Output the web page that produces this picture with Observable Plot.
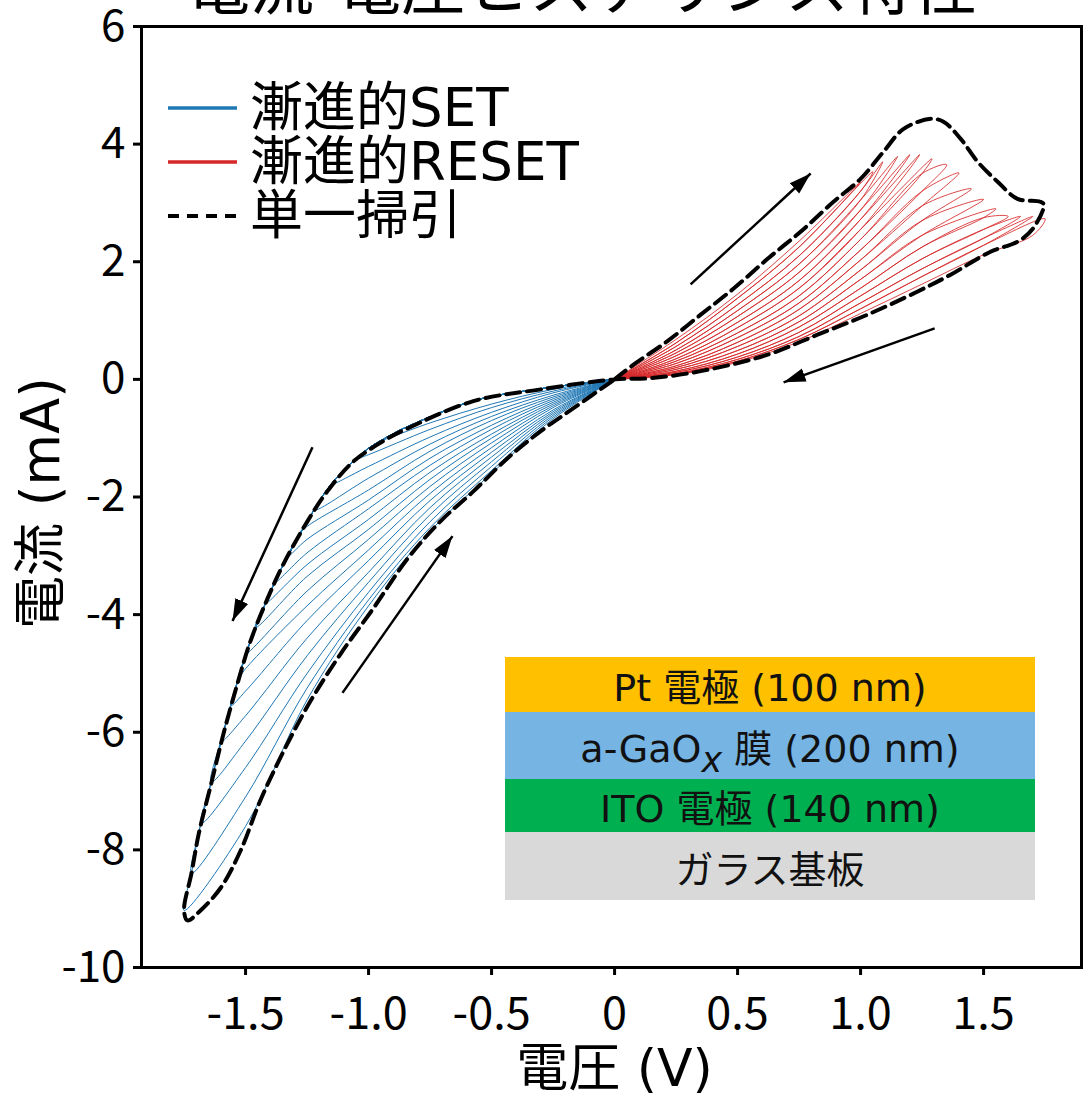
<!DOCTYPE html>
<html><head><meta charset="utf-8">
<script src="https://cdn.jsdelivr.net/npm/d3@7"></script>
<script src="https://cdn.jsdelivr.net/npm/@observablehq/plot@0.6"></script>
<style>
body{margin:0;background:#fff;}
#wrap{position:relative;width:1086px;height:1096px;overflow:hidden;font-family:"DejaVu Sans","Noto Sans CJK JP",sans-serif;color:#000;}
#legend{position:absolute;left:166px;top:81px;}
.row{display:flex;align-items:center;height:54px;font-size:53px;line-height:54px;white-space:nowrap;}
.row svg{margin-right:12px;flex:none;}
.row span{display:inline-block;height:54px;line-height:54px;overflow:visible;}
#stack{position:absolute;left:505px;top:657px;width:530px;}
#stack > div{display:flex;align-items:center;justify-content:center;font-size:38px;color:#111;white-space:nowrap;}
#stack sub{font-size:0.92em;vertical-align:-0.3em;line-height:0;}
</style></head><body><div id="wrap"></div>
<script>
// ---------- text ----------
const titleText = "電流-電圧ヒステリシス特性";
const xLabel = "電圧 (V)";
const yLabel = "電流 (mA)";
const legendLabels = ["漸進的SET", "漸進的RESET", "単一掃引"];
const legendColors = ["#1f77b4", "#d62728", "#000000"];
const stackLabels = ["Pt 電極 (100 nm)", "a-GaO<sub><i>x</i></sub> 膜 (200 nm)", "ITO 電極 (140 nm)", "ガラス基板"];
const stackColors = ["#FFC000", "#75B4E3", "#00B050", "#D9D9D9"];

// ---------- ticks ----------
const xTicks = [-1.5, -1.0, -0.5, 0, 0.5, 1.0, 1.5];
const xTickLabels = ["-1.5", "-1.0", "-0.5", "0", "0.5", "1.0", "1.5"];
const yTicks = [6, 4, 2, 0, -2, -4, -6, -8, -10];
const yTickLabels = ["6", "4", "2", "0", "-2", "-4", "-6", "-8", "-10"];

// ---------- single sweep (dashed) ----------
const sweepV = [0, 0.077, 0.215, 0.35, 0.484, 0.622, 0.756, 0.89, 1.0, 1.093,
  1.175, 1.285, 1.337, 1.407, 1.476, 1.557, 1.638, 1.73, 1.745, 1.70,
  1.638, 1.528, 1.366, 1.23, 1.028, 0.825, 0.622, 0.35, 0.146, 0,
  -0.30, -0.574, -0.84, -0.92, -1.06, -1.167, -1.248, -1.346, -1.41, -1.48,
  -1.53, -1.59, -1.64, -1.69, -1.72, -1.75, -1.736, -1.683, -1.60, -1.52,
  -1.44, -1.345, -1.236, -1.114, -0.98, -0.84, -0.707, -0.573, -0.435, -0.30,
  -0.167, 0];
const sweepI = [0, 0.25, 0.65, 1.10, 1.545, 2.05, 2.51, 3.02, 3.41, 3.87,
  4.26, 4.43, 4.38, 4.09, 3.70, 3.36, 3.07, 3.02, 2.97, 2.56,
  2.34, 2.17, 1.78, 1.49, 1.10, 0.76, 0.42, 0.14, 0.02, 0,
  -0.17, -0.37, -0.83, -1.00, -1.39, -1.90, -2.41, -3.14, -3.72, -4.45,
  -5.13, -6.03, -6.88, -7.72, -8.40, -9.03, -9.20, -9.03, -8.64, -8.01,
  -7.16, -6.32, -5.47, -4.67, -3.89, -3.04, -2.41, -1.90, -1.34, -0.88,
  -0.49, 0];

// ---------- gradual SET (blue) ----------
const setEnvV = [0, -0.3, -0.57, -0.84, -0.92, -1.0, -1.06, -1.12, -1.17, -1.25, -1.35, -1.41, -1.48, -1.53, -1.59, -1.64, -1.69, -1.72, -1.75];
const setEnvI = [0, -0.16, -0.36, -0.8, -0.97, -1.17, -1.38, -1.63, -1.88, -2.42, -3.18, -3.72, -4.45, -5.1, -6.0, -6.85, -7.7, -8.4, -9.03];
const setTipV = [-0.95, -1.05, -1.15, -1.22, -1.28, -1.33, -1.38, -1.42, -1.46, -1.50, -1.53, -1.56, -1.60, -1.64, -1.68, -1.72, -1.75];
const setTipI = [-1.04, -1.35, -1.78, -2.22, -2.62, -3.02, -3.45, -3.82, -4.22, -4.67, -5.1, -5.55, -6.17, -6.85, -7.55, -8.4, -9.03];
const setGridV = [-1.5, -1.25, -1.0, -0.75, -0.5, -0.25];
const setReturnI = [
  [null, null, null, -0.74, -0.42, -0.17],
  [null, null, -1.28, -0.85, -0.48, -0.2],
  [null, null, -1.48, -0.98, -0.56, -0.23],
  [null, null, -1.68, -1.1, -0.63, -0.27],
  [null, -2.5, -1.88, -1.22, -0.7, -0.3],
  [null, -2.72, -2.05, -1.34, -0.78, -0.33],
  [null, -2.95, -2.2, -1.46, -0.85, -0.36],
  [null, -3.15, -2.38, -1.58, -0.93, -0.39],
  [null, -3.35, -2.55, -1.7, -1.0, -0.42],
  [null, -3.6, -2.72, -1.82, -1.08, -0.45],
  [-4.92, -3.85, -2.9, -1.94, -1.16, -0.48],
  [-5.3, -4.1, -3.08, -2.06, -1.24, -0.52],
  [-5.72, -4.4, -3.28, -2.18, -1.32, -0.55],
  [-6.15, -4.7, -3.45, -2.3, -1.4, -0.58],
  [-6.6, -5.0, -3.62, -2.42, -1.48, -0.61],
  [-7.1, -5.25, -3.75, -2.52, -1.55, -0.64],
  [-7.6, -5.45, -3.85, -2.58, -1.6, -0.67]
];

// ---------- gradual RESET (red) ----------
const resetGridV = [0.25, 0.5, 0.75, 1.0, 1.25, 1.5, 1.7];
const resetFirstForwardI = [0.68, 1.45, 2.35, null, null, null, null];
const resetTipV = [1.0, 1.05, 1.09, 1.15, 1.20, 1.24, 1.29, 1.35, 1.40, 1.45, 1.50, 1.55, 1.60, 1.65, 1.70, 1.75];
const resetTipI = [3.36, 3.53, 3.70, 3.79, 3.82, 3.82, 3.75, 3.65, 3.51, 3.24, 3.06, 2.90, 2.77, 2.77, 2.77, 2.73];
const resetReturnI = [
  [0.62, 1.38, 2.25, null, null, null, null],
  [0.56, 1.27, 2.1, 3.2, null, null, null],
  [0.5, 1.17, 1.96, 3.05, null, null, null],
  [0.45, 1.07, 1.82, 2.88, null, null, null],
  [0.4, 0.97, 1.68, 2.72, null, null, null],
  [0.35, 0.88, 1.55, 2.55, null, null, null],
  [0.31, 0.79, 1.42, 2.38, 3.5, null, null],
  [0.27, 0.71, 1.3, 2.2, 3.2, null, null],
  [0.23, 0.63, 1.19, 2.03, 2.95, null, null],
  [0.2, 0.56, 1.08, 1.86, 2.7, null, null],
  [0.17, 0.49, 0.98, 1.7, 2.45, null, null],
  [0.14, 0.43, 0.89, 1.55, 2.25, 2.75, null],
  [0.12, 0.38, 0.8, 1.42, 2.05, 2.55, null],
  [0.1, 0.34, 0.73, 1.3, 1.88, 2.4, null],
  [0.09, 0.31, 0.68, 1.2, 1.75, 2.28, null],
  [0.08, 0.29, 0.64, 1.12, 1.62, 2.12, 2.45]
];

// ---------- arrows ----------
const arrowV1 = [0.309, 1.301, -1.228, -1.106];
const arrowI1 = [1.615, 0.866, -1.154, -5.331];
const arrowV2 = [0.797, 0.687, -1.553, -0.659];
const arrowI2 = [3.50, -0.051, -4.109, -2.665];

// ---------- build tables ----------
const sweepRows = sweepV.map((v, k) => ({v, i: sweepI[k]}));

const setRows = [];
setTipV.forEach((tv, k) => {
  setEnvV.forEach((v, j) => { if (v > tv) setRows.push({loop: k, v, i: setEnvI[j]}); });
  setRows.push({loop: k, v: tv, i: setTipI[k]});
  setGridV.forEach((v, j) => { const val = setReturnI[k][j]; if (val != null) setRows.push({loop: k, v, i: val}); });
  setRows.push({loop: k, v: 0, i: 0});
});

const resetRows = [];
resetTipV.forEach((tv, k) => {
  const fwd = k === 0 ? resetFirstForwardI : resetReturnI[k - 1];
  resetRows.push({loop: k, v: 0, i: 0});
  resetGridV.forEach((v, j) => { const val = fwd[j]; if (val != null && v < tv) resetRows.push({loop: k, v, i: val}); });
  resetRows.push({loop: k, v: tv, i: resetTipI[k]});
  for (let j = resetGridV.length - 1; j >= 0; j--) {
    const val = resetReturnI[k][j];
    if (val != null) resetRows.push({loop: k, v: resetGridV[j], i: val});
  }
  resetRows.push({loop: k, v: 0, i: 0});
});

const arrowRows = arrowV1.map((v, k) => ({x1: v, y1: arrowI1[k], x2: arrowV2[k], y2: arrowI2[k]}));

const xLabelMap = new Map(xTicks.map((t, k) => [t, xTickLabels[k]]));
const yLabelMap = new Map(yTicks.map((t, k) => [t, yTickLabels[k]]));

const NS = "http://www.w3.org/2000/svg";
function filledHead(color, context) {
  const doc = (context && context.document) || document;
  const m = doc.createElementNS(NS, "marker");
  m.setAttribute("viewBox", "-22 -8 22 16");
  m.setAttribute("markerWidth", "22");
  m.setAttribute("markerHeight", "16");
  m.setAttribute("markerUnits", "userSpaceOnUse");
  m.setAttribute("orient", "auto");
  m.setAttribute("refX", "0");
  m.setAttribute("refY", "0");
  const p = doc.createElementNS(NS, "path");
  p.setAttribute("d", "M-22,-7L0,0L-22,7Z");
  p.setAttribute("fill", color);
  p.setAttribute("stroke", "none");
  m.appendChild(p);
  return m;
}

const latin = '"DejaVu Sans","Noto Sans CJK JP",sans-serif';

const chart = Plot.plot({
  width: 1086,
  height: 1096,
  marginTop: 26,
  marginRight: 5,
  marginBottom: 129,
  marginLeft: 141,
  style: {background: "white", fontFamily: '"Noto Sans CJK JP",sans-serif', color: "black"},
  x: {domain: [-1.923, 1.898], label: null},
  y: {domain: [-10, 6], label: null},
  marks: [
    Plot.line(setRows, {x: "v", y: "i", z: "loop", stroke: "#1f77b4", strokeWidth: 1, curve: "catmull-rom"}),
    Plot.line(resetRows, {x: "v", y: "i", z: "loop", stroke: "#d62728", strokeWidth: 1, strokeOpacity: 0.85, curve: "catmull-rom"}),
    Plot.line(sweepRows, {x: "v", y: "i", stroke: "black", strokeWidth: 4, strokeDasharray: "14,7", curve: "catmull-rom"}),
    Plot.link(arrowRows, {x1: "x1", y1: "y1", x2: "x2", y2: "y2", stroke: "black", strokeWidth: 2.5, markerEnd: filledHead}),
    Plot.frame({stroke: "black", strokeWidth: 3}),
    Plot.axisX(xTicks, {tickFormat: d => xLabelMap.get(d), tickSize: 8, tickPadding: 22, fontSize: 45, strokeWidth: 3, label: null}),
    Plot.axisY(yTicks, {tickFormat: d => yLabelMap.get(d), tickSize: 8, tickPadding: 8, fontSize: 44, strokeWidth: 3, label: null}),
    Plot.text([titleText], {text: d => d, frameAnchor: "top", lineAnchor: "bottom", dx: -30, dy: -18, fontSize: 64, fontFamily: latin}),
    Plot.text([yLabel], {text: d => d, frameAnchor: "left", rotate: -90, textAnchor: "middle", lineAnchor: "middle", dx: -99, dy: 6, fontSize: 53, fontFamily: latin}),
    Plot.text([xLabel], {text: d => d, frameAnchor: "bottom", lineAnchor: "bottom", dx: 3, dy: 118, fontSize: 52, fontFamily: latin})
  ]
});

const wrap = document.getElementById("wrap");
wrap.appendChild(chart);

// legend (inside plot area)
const legend = document.createElement("div");
legend.id = "legend";
legendLabels.forEach((lab, k) => {
  const row = document.createElement("div");
  row.className = "row";
  const dash = k === 2 ? ' stroke-dasharray="11,8"' : '';
  const sw = k === 2 ? 4 : 3.5;
  row.innerHTML = `<svg width="72" height="12"><line x1="2" y1="6" x2="71" y2="6" stroke="${legendColors[k]}" stroke-width="${sw}"${dash}/></svg><span>${lab}</span>`;
  legend.appendChild(row);
});
wrap.appendChild(legend);

// layer stack inset
const stack = document.createElement("div");
stack.id = "stack";
const stackHeights = [55, 67, 53, 68];
stackLabels.forEach((lab, k) => {
  const d = document.createElement("div");
  d.style.background = stackColors[k];
  d.style.height = stackHeights[k] + "px";
  d.innerHTML = `<span>${lab}</span>`;
  stack.appendChild(d);
});
wrap.appendChild(stack);
</script>
</body></html>
